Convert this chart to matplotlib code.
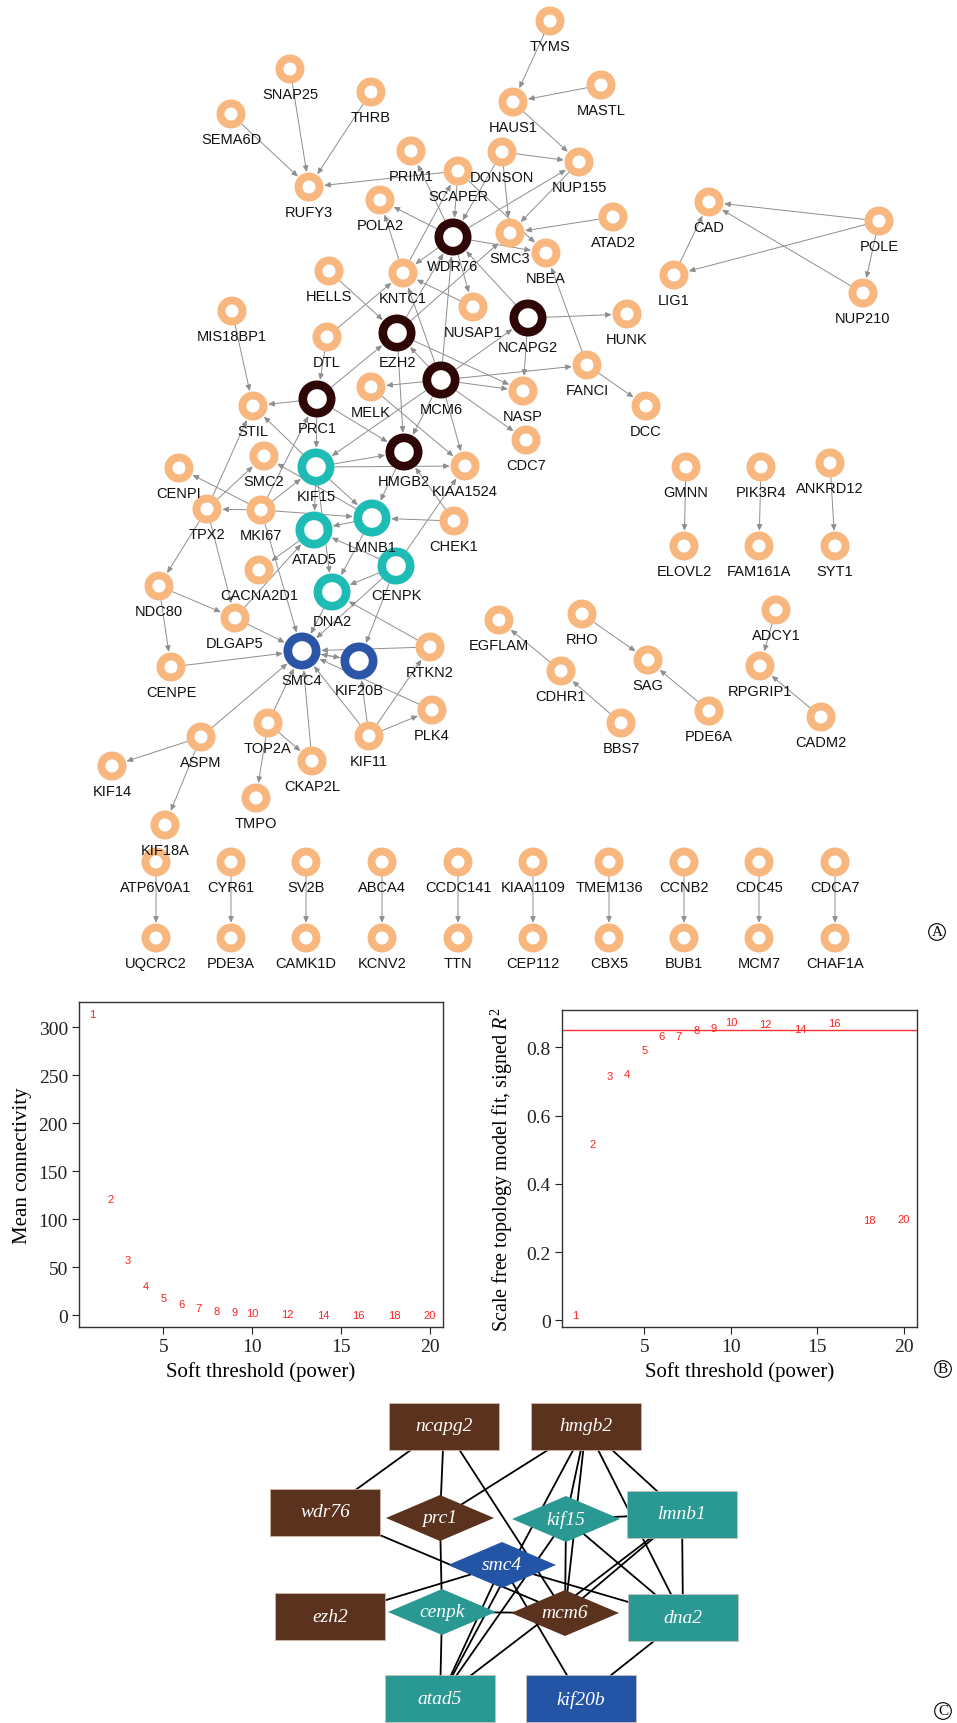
import matplotlib
matplotlib.use('Agg')
import matplotlib.pyplot as plt
from matplotlib.patches import Annulus, FancyArrowPatch, Rectangle, Polygon

plt.rcParams['font.family'] = ['Liberation Sans', 'DejaVu Sans']
plt.rcParams['mathtext.fontset'] = 'custom'
plt.rcParams['mathtext.rm'] = 'Liberation Serif'
plt.rcParams['mathtext.it'] = 'Liberation Serif:italic'

W, H = 957, 1724
PT = 0.72  # points per pixel at dpi=100

# ---------------- panel A: module gene network (layout in pixels) ----------------
gene_names = ['TYMS', 'MASTL', 'HAUS1', 'SNAP25', 'THRB', 'SEMA6D', 'RUFY3', 'PRIM1',
              'SCAPER', 'DONSON', 'NUP155', 'POLA2', 'ATAD2', 'WDR76', 'SMC3', 'NBEA',
              'CAD', 'POLE', 'LIG1', 'NUP210', 'HELLS', 'KNTC1', 'NUSAP1', 'MIS18BP1',
              'NCAPG2', 'HUNK', 'DTL', 'EZH2', 'FANCI', 'MCM6', 'MELK', 'NASP', 'PRC1',
              'STIL', 'DCC', 'CDC7', 'HMGB2', 'SMC2', 'KIAA1524', 'CENPI', 'KIF15',
              'GMNN', 'PIK3R4', 'ANKRD12', 'TPX2', 'MKI67', 'LMNB1', 'CHEK1', 'ATAD5',
              'ELOVL2', 'FAM161A', 'SYT1', 'CENPK', 'CACNA2D1', 'NDC80', 'DNA2',
              'EGFLAM', 'RHO', 'ADCY1', 'DLGAP5', 'RTKN2', 'SMC4', 'SAG', 'KIF20B',
              'RPGRIP1', 'CENPE', 'CDHR1', 'PLK4', 'PDE6A', 'CADM2', 'TOP2A', 'BBS7',
              'KIF11', 'ASPM', 'CKAP2L', 'KIF14', 'TMPO', 'KIF18A']
gene_x = [550, 601, 513, 290, 371, 231, 309, 411,
          458, 502, 579, 380, 613, 453, 510, 546,
          709, 879, 674, 863, 329, 403, 473, 232,
          528, 627, 327, 397, 587, 441, 371, 523, 317,
          253, 646, 526, 404, 264, 465, 179, 316,
          686, 761, 830, 207, 261, 372, 454, 314,
          684, 759, 835, 396, 259, 159, 332,
          499, 582, 776, 235, 430, 302, 648, 359,
          760, 171, 561, 432, 709, 821, 268, 621,
          369, 201, 312, 112, 256, 165]
gene_y = [22, 86, 103, 70, 93, 115, 188, 152,
          172, 153, 163, 201, 218, 238, 234, 254,
          203, 222, 276, 294, 272, 274, 308, 312,
          319, 315, 338, 334, 366, 381, 388, 392, 400,
          407, 407, 441, 453, 457, 467, 469, 468,
          468, 468, 464, 510, 511, 519, 522, 531,
          547, 547, 547, 567, 571, 587, 593,
          621, 615, 611, 619, 648, 652, 661, 662,
          667, 668, 672, 711, 712, 718, 724, 724,
          737, 738, 762, 767, 799, 826]

hub_dark = ['WDR76', 'EZH2', 'MCM6', 'PRC1', 'NCAPG2', 'HMGB2']
hub_teal = ['KIF15', 'LMNB1', 'ATAD5', 'CENPK', 'DNA2']
hub_blue = ['SMC4', 'KIF20B']

# isolated pairs along the bottom of panel A
pair_top = ['ATP6V0A1', 'CYR61', 'SV2B', 'ABCA4', 'CCDC141', 'KIAA1109', 'TMEM136',
            'CCNB2', 'CDC45', 'CDCA7']
pair_bottom = ['UQCRC2', 'PDE3A', 'CAMK1D', 'KCNV2', 'TTN', 'CEP112', 'CBX5', 'BUB1',
               'MCM7', 'CHAF1A']
pair_x = [156, 231, 306, 382, 458, 533, 609, 684, 759, 835]
pair_y_top, pair_y_bottom = 863, 939

arcs = [('SEMA6D', 'RUFY3'), ('SNAP25', 'RUFY3'), ('THRB', 'RUFY3'), ('SCAPER', 'RUFY3'),
        ('TYMS', 'HAUS1'), ('MASTL', 'HAUS1'), ('HAUS1', 'NUP155'), ('DONSON', 'NUP155'),
        ('DONSON', 'SMC3'), ('WDR76', 'NUP155'), ('NUP155', 'SMC3'), ('ATAD2', 'SMC3'),
        ('SCAPER', 'NBEA'), ('WDR76', 'NBEA'), ('WDR76', 'PRIM1'), ('WDR76', 'POLA2'),
        ('WDR76', 'KNTC1'), ('KNTC1', 'POLA2'), ('KNTC1', 'SCAPER'), ('SCAPER', 'WDR76'),
        ('DONSON', 'WDR76'), ('HELLS', 'EZH2'), ('DTL', 'KNTC1'), ('DTL', 'PRC1'),
        ('PRC1', 'EZH2'), ('EZH2', 'WDR76'), ('EZH2', 'SMC3'), ('NUSAP1', 'KNTC1'),
        ('WDR76', 'NUSAP1'), ('MCM6', 'WDR76'), ('MCM6', 'EZH2'), ('MCM6', 'KNTC1'),
        ('NCAPG2', 'WDR76'), ('NCAPG2', 'HUNK'), ('NCAPG2', 'NASP'), ('MCM6', 'NCAPG2'),
        ('MCM6', 'FANCI'), ('MCM6', 'NASP'), ('EZH2', 'NASP'), ('MCM6', 'MELK'),
        ('MCM6', 'CDC7'), ('MCM6', 'HMGB2'), ('MCM6', 'KIAA1524'), ('MCM6', 'KIF15'),
        ('EZH2', 'HMGB2'), ('FANCI', 'NBEA'), ('FANCI', 'DCC'), ('PRC1', 'STIL'),
        ('PRC1', 'KIF15'), ('PRC1', 'HMGB2'), ('MELK', 'KIAA1524'), ('MIS18BP1', 'STIL'),
        ('KIF15', 'STIL'), ('KIF15', 'HMGB2'), ('KIF15', 'KIAA1524'), ('KIF15', 'LMNB1'),
        ('KIF15', 'ATAD5'), ('KIF15', 'DNA2'), ('LMNB1', 'SMC2'), ('HMGB2', 'LMNB1'),
        ('CHEK1', 'HMGB2'), ('CHEK1', 'LMNB1'), ('MKI67', 'TPX2'), ('MKI67', 'CENPI'),
        ('MKI67', 'LMNB1'), ('MKI67', 'PRC1'), ('MKI67', 'SMC4'), ('MKI67', 'KIF15'),
        ('TPX2', 'SMC2'), ('TPX2', 'STIL'), ('TPX2', 'NDC80'), ('TPX2', 'DLGAP5'),
        ('NDC80', 'DLGAP5'), ('NDC80', 'CENPE'), ('CENPE', 'SMC4'), ('DLGAP5', 'SMC4'),
        ('DLGAP5', 'ATAD5'), ('ATAD5', 'CACNA2D1'), ('LMNB1', 'ATAD5'), ('LMNB1', 'DNA2'),
        ('CENPK', 'DNA2'), ('CENPK', 'KIF20B'), ('CENPK', 'SMC4'), ('CENPK', 'KIAA1524'),
        ('CENPK', 'ATAD5'), ('DNA2', 'SMC4'), ('RTKN2', 'DNA2'), ('RTKN2', 'SMC4'),
        ('KIF20B', 'SMC4'), ('SMC4', 'KIF20B'), ('PLK4', 'SMC4'), ('KIF11', 'SMC4'),
        ('KIF11', 'PLK4'), ('KIF11', 'RTKN2'), ('KIF11', 'KIF20B'), ('ASPM', 'SMC4'),
        ('ASPM', 'KIF14'), ('ASPM', 'KIF18A'), ('TOP2A', 'SMC4'), ('TOP2A', 'TMPO'),
        ('TOP2A', 'CKAP2L'), ('CKAP2L', 'SMC4'),
        ('POLE', 'CAD'), ('POLE', 'LIG1'), ('LIG1', 'CAD'), ('NUP210', 'CAD'),
        ('POLE', 'NUP210'), ('GMNN', 'ELOVL2'), ('PIK3R4', 'FAM161A'), ('ANKRD12', 'SYT1'),
        ('CDHR1', 'EGFLAM'), ('BBS7', 'CDHR1'), ('RHO', 'SAG'), ('PDE6A', 'SAG'),
        ('ADCY1', 'RPGRIP1'), ('CADM2', 'RPGRIP1')]

# ---------------- panel B: soft-threshold selection ----------------
powers = [1, 2, 3, 4, 5, 6, 7, 8, 9, 10, 12, 14, 16, 18, 20]
mean_k = [314, 121, 57, 30.5, 17.7, 11.4, 7.3, 4.5, 3.4, 2.0, 1.0, 0.3, 0.2, 0.1, 0.05]
sft_r2 = [0.015, 0.518, 0.717, 0.723, 0.793, 0.832, 0.832, 0.851, 0.858, 0.875,
          0.867, 0.855, 0.872, 0.293, 0.298]
r2_cut = 0.85

# ---------------- panel C: hub genes ----------------
hub_names = ['ncapg2', 'hmgb2', 'wdr76', 'prc1', 'kif15', 'lmnb1', 'smc4', 'ezh2',
             'cenpk', 'mcm6', 'dna2', 'atad5', 'kif20b']
hub_x = [444, 586, 325, 440, 566, 682, 502, 330, 442, 565, 683, 440, 581]
hub_y = [1427, 1427, 1513, 1519, 1520, 1515, 1566, 1618, 1613, 1614, 1619, 1700, 1700]
hub_shape = ['rect', 'rect', 'rect', 'diam', 'diam', 'rect', 'diam', 'rect', 'diam',
             'diam', 'rect', 'rect', 'rect']
hub_module = ['brown', 'brown', 'brown', 'brown', 'teal', 'teal', 'blue', 'brown',
              'teal', 'brown', 'teal', 'teal', 'blue']
hub_links = [('ncapg2', 'wdr76'), ('ncapg2', 'prc1'), ('ncapg2', 'mcm6'),
             ('hmgb2', 'prc1'), ('hmgb2', 'kif15'), ('hmgb2', 'mcm6'), ('hmgb2', 'atad5'),
             ('hmgb2', 'lmnb1'), ('hmgb2', 'dna2'), ('wdr76', 'mcm6'), ('prc1', 'cenpk'),
             ('kif15', 'lmnb1'), ('kif15', 'mcm6'), ('kif15', 'dna2'), ('kif15', 'atad5'),
             ('lmnb1', 'mcm6'), ('lmnb1', 'dna2'), ('lmnb1', 'atad5'), ('smc4', 'ezh2'),
             ('smc4', 'dna2'), ('smc4', 'atad5'), ('smc4', 'kif20b'), ('cenpk', 'mcm6'),
             ('cenpk', 'atad5'), ('dna2', 'kif20b')]

fig = plt.figure(figsize=(W / 100, H / 100), dpi=100)
ax = fig.add_axes([0, 0, 1, 1])
ax.set_xlim(0, W)
ax.set_ylim(H, 0)
ax.axis('off')

ring = {'o': ('#F8B77E', 14.5, 8.0), 'd': ('#2E0606', 18.5, 8.7),
        't': ('#1EBCB4', 18.5, 8.7), 'b': ('#2B56A8', 18.5, 8.7)}


def group_of(name):
    if name in hub_dark:
        return 'd'
    if name in hub_teal:
        return 't'
    if name in hub_blue:
        return 'b'
    return 'o'


pos = {n: (x, y) for n, x, y in zip(gene_names, gene_x, gene_y)}
for i, x in enumerate(pair_x):
    pos[pair_top[i]] = (x, pair_y_top)
    pos[pair_bottom[i]] = (x, pair_y_bottom)
    arcs.append((pair_top[i], pair_bottom[i]))

for src, dst in arcs:
    r1 = ring[group_of(src)][1]
    r2 = ring[group_of(dst)][1]
    ax.add_patch(FancyArrowPatch(pos[src], pos[dst],
                                 arrowstyle='-|>,head_length=0.45,head_width=0.2',
                                 mutation_scale=8, shrinkA=r1 * PT, shrinkB=r2 * PT + 0.5,
                                 color='#8e8e8e', lw=0.7, zorder=2))

for name, (x, y) in pos.items():
    col, r, w = ring[group_of(name)]
    ax.add_patch(Annulus((x, y), r, w, color=col, lw=0, zorder=3))
    ax.text(x, y + r + 10.5, name, ha='center', va='center', fontsize=10.5,
            color='#111111', zorder=4)

# circled panel letters
for letter, (x, y) in zip('ABC', [(937, 933), (943, 1370), (943, 1712)]):
    ax.text(x, y, letter, ha='center', va='center', fontsize=11,
            family=['Liberation Serif'],
            bbox=dict(boxstyle='circle,pad=0.12', fc='none', ec='black', lw=0.8))

# panel C
module_color = {'brown': '#5B321D', 'teal': '#2A9893', 'blue': '#2354A6'}
hpos = {n: (x, y) for n, x, y in zip(hub_names, hub_x, hub_y)}
for a, b in hub_links:
    ax.plot([hpos[a][0], hpos[b][0]], [hpos[a][1], hpos[b][1]], color='black',
            lw=1.3, zorder=5)
for n, shape, mod in zip(hub_names, hub_shape, hub_module):
    x, y = hpos[n]
    col = module_color[mod]
    if shape == 'rect':
        p = Rectangle((x - 55, y - 23.5), 110, 47, fc=col, ec='#d8c0b0', lw=0.5, zorder=6)
    else:
        p = Polygon([(x - 54, y), (x, y - 23), (x + 54, y), (x, y + 23)], closed=True,
                    fc=col, ec='none', zorder=6)
    ax.add_patch(p)
    ax.text(x, y, n, ha='center', va='center', color='white', fontsize=14,
            family=['Liberation Serif'], style='italic', zorder=7)

# panel B
serif = ['Liberation Serif', 'DejaVu Serif']
axL = fig.add_axes([79 / W, 1 - 1328 / H, 364 / W, 325 / H])
axR = fig.add_axes([562 / W, 1 - 1328 / H, 355 / W, 317 / H])
for a, vals in [(axL, mean_k), (axR, sft_r2)]:
    span = max(vals) - min(vals)
    a.set_ylim(min(vals) - 0.04 * span, max(vals) + 0.04 * span)
    a.set_xlim(1 - 0.04 * 19, 20 + 0.04 * 19)
    for p, v in zip(powers, vals):
        a.text(p, v, str(p), ha='center', va='center', color='#FF2020', fontsize=8)
    a.set_xticks([5, 10, 15, 20])
    a.tick_params(direction='out', length=5, width=0.8, pad=3, labelsize=14,
                  colors='#222222')
    for lab in a.get_xticklabels() + a.get_yticklabels():
        lab.set_family(serif)
    for s in a.spines.values():
        s.set_color('#333333')
        s.set_linewidth(1.0)
    a.set_xlabel('Soft threshold (power)', fontsize=15, family=serif)

axL.set_yticks([0, 50, 100, 150, 200, 250, 300])
axL.set_yticklabels(['0', '50', '100', '150', '200', '250', '300'], family=serif)
axL.set_ylabel('Mean connectivity', fontsize=15, family=serif)
axL.xaxis.set_label_coords(0.5, -0.105)
axL.yaxis.set_label_coords(-0.129, 0.5)

axR.axhline(r2_cut, color='#FF3030', lw=1.0)
axR.set_yticks([0, 0.2, 0.4, 0.6, 0.8])
axR.set_yticklabels(['0', '0.2', '0.4', '0.6', '0.8'], family=serif)
axR.set_ylabel(r'Scale free topology model fit, signed $R^2$', fontsize=14.5,
               family=serif)
axR.xaxis.set_label_coords(0.5, -0.108)
axR.yaxis.set_label_coords(-0.132, 0.5)

fig.savefig('out.png', dpi=100)
